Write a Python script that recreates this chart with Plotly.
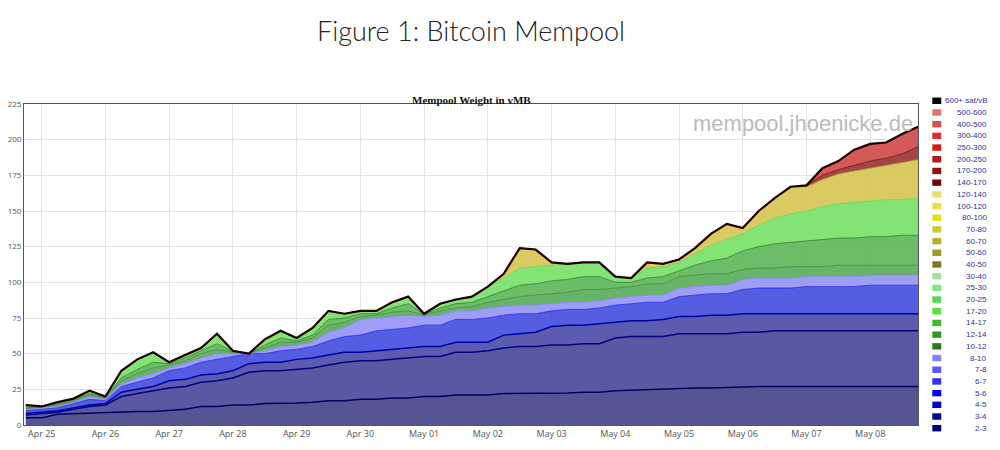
import pandas as pd
import plotly.graph_objects as go

times = pd.date_range("2017-04-24 18:00", "2017-05-08 18:00", freq="6h")

total = [14, 13,16,18.5,24, 20,38,46,51, 44,49,54,64, 52,50,60,66, 61,68,80,78, 80,80,86,90,
         78,85,88,90, 97,106,124,123, 114,113,114,114, 104,103,114,113, 116,124,134,141,
         138,150,159,167, 168,180,185,193, 197,198,204,209]
l1 = [5, 5,7.5,8,8, 8.5,9,9.5,9.5, 10,11,13,13, 14,14,15,15, 15.5,16,17,17, 18,18,19,19,
      20,20,21,21, 21,22,22,22, 22,22.5,23,23, 24,24.5,25,25, 26,26,26,26.5,
      27,27,27,27, 27,27,27,27, 27,27,27,27]
l2 = [7, 8,9,11,13, 14,20,22,24, 26,27,30,31, 33,37,38,38, 39,40,42,44, 45,45,46,47,
      48,48,51,51, 52,54,55,55, 56,56,57,57, 61,62,62,62, 64,64,64,64,
      65,65,66,66, 66,66,66,66, 66,66,66,66]
l3 = [8, 9,10,12,14, 15,23,25,27, 31,32,35,36, 38,43,44,44, 46,47,49,51, 51,52,53,54,
      55,55,58,58, 58,63,64,65, 69,70,70,71, 72,73,73,74, 76,76,77,77,
      78,78,78,78, 78,78,78,78, 78,78,78,78]
l4 = [10, 11,12,15,18, 17,27,30,33, 38,40,44,46, 48,50,50,52, 53,55,59,62, 63,66,67,68,
      70,70,74,74, 75,77,78,78, 80,81,81,82, 84,85,86,86, 90,91,92,92,
      95,96,96,96, 97,97,97,97, 98,98,98,98]
l5 = [11, 12,13,16,20, 18,29,33,36, 40,43,47,50, 50,50,52,55, 56,58,65,68, 74,75,76,77,
      76,77,80,80, 82,83,84,84, 85,86,86,87, 89,90,91,91, 96,97,98,98,
      102,103,103,103, 104,104,104,104, 105,105,105,105]
lg1 = [11.5, 12.5,14,17,21, 19,31,36,40, 42,45,50,53, 51,50,54,58, 58,61,70,72, 76,77,79,80,
       77,80,82,83, 86,88,90,91, 92,93,95,95, 96,97,99,99, 104,105,106,106,
       109,110,110,111, 111,111,112,112, 112,112,112,112]
lg2 = [12, 13,15,18,22, 19.5,33,39,44, 43,47,52,57, 51.5,50,56,61, 59,63,74,75, 78,78,82,85,
       77.5,82,85,86, 90,94,98,99, 101,102,104,104, 100,100,103,104, 108,112,115,117,
       122,125,127,128, 129,130,131,131, 132,132,133,133]
l6 = [14, 13,16,18.5,24, 20,38,46,51, 44,49,54,64, 52,50,60,66, 61,68,80,78, 80,80,86,90,
      78,85,88,90, 97,103,110,111, 112,113,114,114, 104,103,110,111, 114,120,126,130,
      134,140,145,148, 150,153,155,156, 157,158,158,159]
l7 = [14, 13,16,18.5,24, 20,38,46,51, 44,49,54,64, 52,50,60,66, 61,68,80,78, 80,80,86,90,
      78,85,88,90, 97,106,124,123, 114,113,114,114, 104,103,114,113, 116,124,134,141,
      138,150,159,167, 167,172,176,178, 180,182,184,186]
l8 = [14, 13,16,18.5,24, 20,38,46,51, 44,49,54,64, 52,50,60,66, 61,68,80,78, 80,80,86,90,
      78,85,88,90, 97,106,124,123, 114,113,114,114, 104,103,114,113, 116,124,134,141,
      138,150,159,167, 168,175,179,182, 185,187,190,195]

legend_labels = ["600+ sat/vB","500-600","400-500","300-400","250-300","200-250","170-200","140-170",
                 "120-140","100-120","80-100","70-80","60-70","50-60","40-50","30-40","25-30",
                 "20-25","17-20","14-17","12-14","10-12","8-10","7-8","6-7","5-6","4-5","3-4","2-3"]
legend_colors = ["#000000","#e07070","#d85050","#d83030","#d02010","#b01818","#901010","#700808",
                 "#e8e070","#e8e040","#e0e020","#d0c830","#b8b030","#a09a28","#807820","#a0e0a0",
                 "#80e880","#50d850","#58e040","#40b830","#309a28","#287a20","#8080ff","#5858ff",
                 "#3030ff","#0000ff","#0000c8","#00009a","#000070"]

layers = [
    (l1, "#000060", "rgba(80,80,145,0.97)"),
    (l2, "#000080", "rgba(84,84,160,0.97)"),
    (l3, "#0000a0", "rgba(86,86,172,0.97)"),
    (l4, "#2020e0", "rgba(70,80,225,0.92)"),
    (l5, "#8080ff", "rgba(150,150,245,0.92)"),
    (lg1, "#3a8a30", "rgba(95,175,95,0.95)"),
    (lg2, "#2f7a28", "rgba(100,185,95,0.95)"),
    (l6, "#60d850", "rgba(125,225,110,0.95)"),
    (l7, "#a09a28", "rgba(215,200,90,0.95)"),
    (l8, "#700808", "rgba(160,60,60,0.95)"),
    (total, "#200000", "rgba(210,80,80,0.95)"),
]

fig = go.Figure()
for i, (ys, lc, fc) in enumerate(layers):
    fig.add_trace(go.Scatter(
        x=times, y=ys, mode="lines", showlegend=False, hoverinfo="skip",
        line=dict(color=lc, width=2.2 if i == len(layers) - 1 else (1.5 if i < 3 else 0.8)),
        fill="tozeroy" if i == 0 else "tonexty", fillcolor=fc))

# custom legend
n = len(legend_labels)
for i, (lab, col) in enumerate(zip(legend_labels, legend_colors)):
    yp = 1.01 - i * (1.02 / (n - 1))
    fig.add_shape(type="rect", xref="paper", yref="paper",
                  x0=1.016, x1=1.026, y0=yp - 0.01, y1=yp + 0.01,
                  fillcolor=col, line=dict(width=0))
    fig.add_annotation(xref="paper", yref="paper", x=1.079, y=yp, text=lab,
                       showarrow=False, xanchor="right", yanchor="middle",
                       font=dict(size=8, color="#3030a0", family="Arial"))

fig.add_annotation(xref="paper", yref="paper", x=0.5, y=1.0, yshift=92,
                   text="Figure 1: Bitcoin Mempool", showarrow=False,
                   font=dict(size=27, color="#222222", family="Lato", weight=300))
fig.add_annotation(xref="paper", yref="paper", x=0.5, y=1.0, yshift=12,
                   text="<b>Mempool Weight in vMB</b>", showarrow=False,
                   font=dict(size=11, color="#111111", family="Liberation Serif"))
fig.add_annotation(xref="paper", yref="paper", x=0.997, y=0.985,
                   text="mempool.jhoenicke.de", showarrow=False, xanchor="right", yanchor="top",
                   font=dict(size=22, color="#bbbbbb", family="Liberation Sans"))

fig.update_layout(
    width=1000, height=450, paper_bgcolor="white", plot_bgcolor="white",
    margin=dict(l=24, r=82, t=104, b=25, autoexpand=False),
    xaxis=dict(range=["2017-04-24 17:20", "2017-05-08 18:00"], tickformat="%b %d", dtick=86400000,
               tick0="2017-04-25", showgrid=True, gridcolor="#e4e4e4", showline=True,
               linecolor="#555555", mirror=True, ticks="", tickfont=dict(size=9, color="#555555"),
               zeroline=False, automargin=False),
    yaxis=dict(range=[0, 225], dtick=25, showgrid=True, gridcolor="#e4e4e4", showline=True,
               linecolor="#555555", mirror=True, tickfont=dict(size=8, color="#555555"),
               zeroline=False, automargin=False),
)
fig.write_html("out.html", config={"displayModeBar": False},
               post_script="document.body.style.margin='0px';document.body.style.overflow='hidden';")
